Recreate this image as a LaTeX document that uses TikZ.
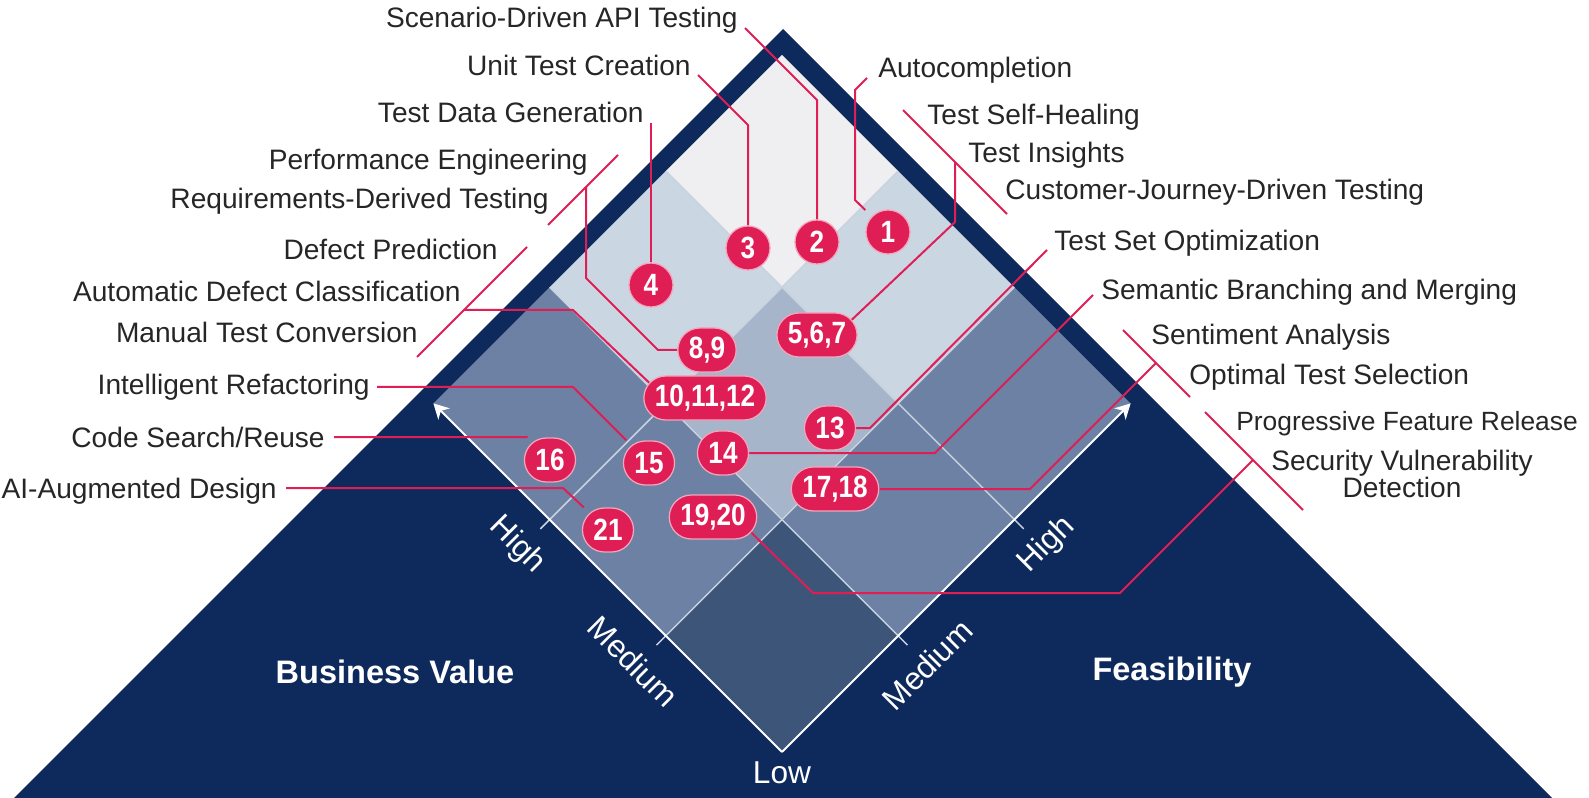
\documentclass[tikz,border=0pt]{standalone}
\usepackage{fontspec}
\setmainfont{Liberation Sans}
\newfontfamily\badgefont[FakeStretch=0.85]{Liberation Sans}
\usetikzlibrary{arrows.meta}
\definecolor{pyrnavy}{RGB}{14,42,92}
\definecolor{pyrpink}{RGB}{224,30,86}
\definecolor{labeltext}{RGB}{38,38,38}
\definecolor{celltop}{RGB}{239,239,241}
\definecolor{celllight}{RGB}{203,214,227}
\definecolor{cellmid}{RGB}{166,181,201}
\definecolor{cellslate}{RGB}{108,129,163}
\definecolor{celldark}{RGB}{60,85,121}
\definecolor{gridgray}{RGB}{200,210,224}
\pgfdeclarelayer{front}
\pgfsetlayers{main,front}

\begin{document}
\begin{tikzpicture}[x=0.2mm, y=-0.2mm,
  lbl/.style={font=\fontsize{16}{19}\selectfont, text=labeltext, inner sep=0pt},
  leader/.style={pyrpink, line width=0.4mm},
  badge/.style={rectangle, rounded corners=4.4mm, fill=pyrpink,
    draw=white!60!pyrpink, line width=0.25mm, minimum height=8.8mm,
    minimum width=8.8mm, inner xsep=2.2mm, inner ysep=0pt, text=white,
    font=\badgefont\bfseries\fontsize{17.5}{18}\selectfont},
  gridline/.style={gridgray, line width=0.3mm},
  axisarrow/.style={white, line width=0.4mm,
    -{Stealth[length=3mm, width=3.2mm, inset=0.9mm]}},
  axislbl/.style={font=\fontsize{18}{20}\selectfont, text=white},
  axisname/.style={font=\bfseries\fontsize{18.5}{20}\selectfont, text=white}]

\useasboundingbox (0,0) rectangle (1589,798);
\fill[white] (0,0) rectangle (1589,798);

%% the pyramid
\fill[pyrnavy] (783,29) -- (14,798) -- (1552,798) -- cycle;

%% value / feasibility grid, u = feasibility, v = business value
\begin{scope}[shift={(782,752)}, x={(2.324cm,2.324cm)}, y={(-2.324cm,2.324cm)}]
  \foreach \u/\v/\c in {0/0/celldark, 1/0/cellslate, 0/1/cellslate,
                        2/0/cellslate, 1/1/cellmid, 0/2/cellslate,
                        2/1/celllight, 1/2/celllight, 2/2/celltop}
    \fill[\c] (\u,\v) -- ++(1,0) -- ++(0,1) -- ++(-1,0) -- cycle;
  \foreach \k in {1,2} {
    \draw[gridline] (\k,-0.08) -- (\k,3);
    \draw[gridline] (-0.08,\k) -- (3,\k);
  }
  \draw[axisarrow] (0,0) -- (3,0);
  \draw[axisarrow] (0,0) -- (0,3);
  \node[axislbl, rotate=-45] (bvHigh) at (-0.25,2.03) {High};
  \node[axislbl, rotate=-45] (bvMed)  at (-0.25,1.03) {Medium};
  \node[axislbl, rotate=45]  (fsHigh) at (2.03,-0.25) {High};
  \node[axislbl, rotate=45]  (fsMed)  at (1.0,-0.25)  {Medium};
  \node[axislbl] (lowLbl) at (-0.09,-0.09) {Low};
\end{scope}

\node[axisname] (bizValue) at (395,672) {Business Value};
\node[axisname] (feasib)   at (1172,672) {Feasibility};

%% use-case badges
\begin{pgfonlayer}{front}
  \node[badge] (n1)     at (888,232) {1};
  \node[badge] (n2)     at (817,242) {2};
  \node[badge] (n3)     at (748,248) {3};
  \node[badge] (n4)     at (651,285) {4};
  \node[badge] (n567)   at (817,335) {5,6,7};
  \node[badge] (n89)    at (707,350) {8,9};
  \node[badge] (n101112) at (705,398) {10,11,12};
  \node[badge] (n13)    at (830,428) {13};
  \node[badge] (n14)    at (723,453) {14};
  \node[badge] (n15)    at (649,463) {15};
  \node[badge] (n16)    at (550,460) {16};
  \node[badge] (n1718)  at (835,489) {17,18};
  \node[badge] (n1920)  at (713,517) {19,20};
  \node[badge] (n21)    at (608,530) {21};
\end{pgfonlayer}

%% labels, left side
\node[lbl, anchor=base east] (sScen)   at (738,28)  {Scenario-Driven API Testing};
\node[lbl, anchor=base east] (sUnit)   at (691,76)  {Unit Test Creation};
\node[lbl, anchor=base east] (sData)   at (644,123) {Test Data Generation};
\node[lbl, anchor=base east] (sPerf)   at (588,170) {Performance Engineering};
\node[lbl, anchor=base east] (sReq)    at (549,209) {Requirements-Derived Testing};
\node[lbl, anchor=base east] (sDefP)   at (498,260) {Defect Prediction};
\node[lbl, anchor=base east] (sDefC)   at (461,302) {Automatic Defect Classification};
\node[lbl, anchor=base east] (sManual) at (418,343) {Manual Test Conversion};
\node[lbl, anchor=base east] (sRefac)  at (370,395) {Intelligent Refactoring};
\node[lbl, anchor=base east] (sCode)   at (325,447) {Code Search/Reuse};
\node[lbl, anchor=base east] (sDesign) at (277,498) {AI-Augmented Design};

%% labels, right side
\node[lbl, anchor=base west] (sAuto)    at (878,78)  {Autocompletion};
\node[lbl, anchor=base west] (sHeal)    at (927,125) {Test Self-Healing};
\node[lbl, anchor=base west] (sInsight) at (968,163) {Test Insights};
\node[lbl, anchor=base west] (sJourney) at (1005,200) {Customer-Journey-Driven Testing};
\node[lbl, anchor=base west] (sOpt)     at (1054,251) {Test Set Optimization};
\node[lbl, anchor=base west] (sBranch)  at (1101,300) {Semantic Branching and Merging};
\node[lbl, anchor=base west] (sSent)    at (1151,345) {Sentiment Analysis};
\node[lbl, anchor=base west] (sSelect)  at (1189,385) {Optimal Test Selection};
\node[lbl, anchor=base west, font=\fontsize{15}{18}\selectfont] (sRelease)
  at (1236,430) {Progressive Feature Release};
\node[lbl, align=center, font=\fontsize{16}{15}\selectfont] (sSecurity)
  at (1402,474) {Security Vulnerability\\Detection};

%% bend points of the leaders
\coordinate (k2a) at (745,28);   \coordinate (k2b) at (817,100);
\coordinate (k3a) at (698,75);   \coordinate (k3b) at (748,125);
\coordinate (k4a) at (651,123);
\coordinate (k1a) at (867,78);   \coordinate (k1b) at (855,90);
\coordinate (k1c) at (855,200);
\coordinate (b1a) at (903,110);  \coordinate (b1b) at (1007,214);
\coordinate (j1)  at (955,162);  \coordinate (k5a) at (955,222);
\coordinate (b2a) at (618,155);  \coordinate (b2b) at (548,225);
\coordinate (j2)  at (586,187);  \coordinate (k89a) at (586,278);
\coordinate (k89b) at (658,350);
\coordinate (b3a) at (527,247);  \coordinate (b3b) at (417,357);
\coordinate (j3)  at (464,310);  \coordinate (k10a) at (573,310);
\coordinate (k15a) at (573,387);
\coordinate (k16a) at (527,437);
\coordinate (k21a) at (563,488);
\coordinate (k13a) at (1047,250); \coordinate (k13b) at (870,428);
\coordinate (k14a) at (1093,295); \coordinate (k14b) at (935,453);
\coordinate (b4a) at (1123,330); \coordinate (b4b) at (1190,397);
\coordinate (j4)  at (1156,363); \coordinate (k17a) at (1030,489);
\coordinate (b5a) at (1205,412); \coordinate (b5b) at (1303,510);
\coordinate (j5)  at (1253,460); \coordinate (k19a) at (1120,593);
\coordinate (k19b) at (813,593);

%% leaders
\draw[leader] (k2a) -- (k2b) -- (n2);
\draw[leader] (k3a) -- (k3b) -- (n3);
\draw[leader] (k4a) -- (n4);
\draw[leader] (k1a) -- (k1b) -- (k1c) -- (n1);
\draw[leader] (b1a) -- (b1b);
\draw[leader] (j1) -- (k5a) -- ([xshift=-4.4mm]n567.east);
\draw[leader] (b2a) -- (b2b);
\draw[leader] (j2) -- (k89a) -- (k89b) -- (n89);
\draw[leader] (b3a) -- (b3b);
\draw[leader] (j3) -- (k10a) -- ([xshift=4.4mm]n101112.west);
\draw[leader] ([xshift=1.4mm]sRefac.east |- k15a) -- (k15a) -- (n15);
\draw[leader] ([xshift=1.8mm]sCode.east |- k16a) -- (k16a) -- (n16);
\draw[leader] ([xshift=1.8mm]sDesign.east |- k21a) -- (k21a) -- (n21);
\draw[leader] (k13a) -- (k13b) -- (n13);
\draw[leader] (k14a) -- (k14b) -- (n14);
\draw[leader] (b4a) -- (b4b);
\draw[leader] (j4) -- (k17a) -- (n1718);
\draw[leader] (b5a) -- (b5b);
\draw[leader] (j5) -- (k19a) -- (k19b) -- ([xshift=-4.4mm]n1920.east);
\end{tikzpicture}
\end{document}
